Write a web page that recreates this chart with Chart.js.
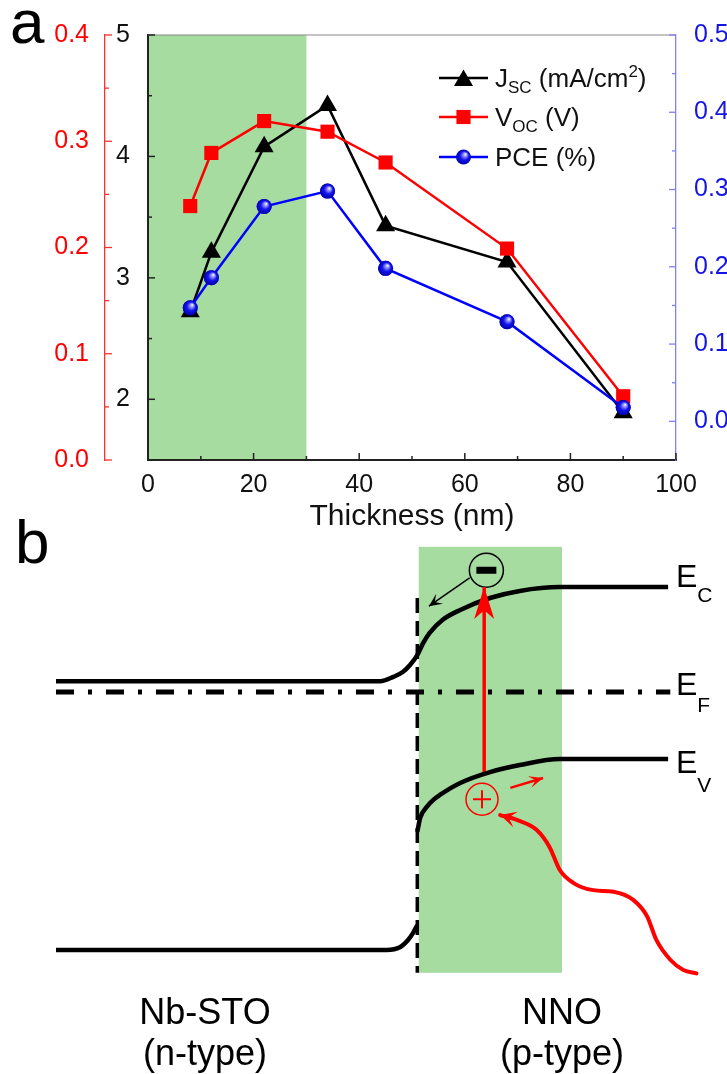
<!DOCTYPE html>
<html>
<head>
<meta charset="utf-8">
<script src="https://cdn.jsdelivr.net/npm/chart.js@4.4.0/dist/chart.umd.min.js"></script>
<style>
  body { margin: 0; background: #fff; width: 727px; height: 1074px; position: relative; overflow: hidden; }
  #chartA { position: absolute; left: 0; top: 0; }
  #chartB { position: absolute; left: 0; top: 500px; }
</style>
</head>
<body>
<canvas id="chartA" width="727" height="535"></canvas>
<canvas id="chartB" width="727" height="574"></canvas>
<script>
// ---- panel a data ----
const thickness = [8, 12, 22, 34, 45, 68, 90];
const jsc = [2.72, 3.21, 4.08, 4.42, 3.43, 3.13, 1.89];
const voc = [0.239, 0.289, 0.319, 0.309, 0.280, 0.199, 0.060];
const pce = [0.147, 0.186, 0.278, 0.298, 0.198, 0.129, 0.018];
const xTicks = [0, 20, 40, 60, 80, 100];
const jscTicks = [2, 3, 4, 5];
const vocTicks = [0, 0.1, 0.2, 0.3, 0.4];
const pceTicks = [0, 0.1, 0.2, 0.3, 0.4, 0.5];
const shadedThickness = [0, 30];

// ---- panel b (band diagram) data: position (a.u.) / energy (a.u.) ----
const cbX = [7.7, 52.3, 54.1, 55.4, 56.4, 57.4, 58.2, 59.1, 60.9, 63.3, 67.4, 71.5, 77.0, 91.9];
const cbE = [7.22, 7.22, 7.30, 7.39, 7.52, 7.70, 7.92, 8.11, 8.35, 8.53, 8.75, 8.88, 8.95, 8.95];
const vbLeftX = [7.7, 53.2, 55.0, 56.1, 56.8, 57.4];
const vbLeftE = [2.28, 2.28, 2.33, 2.46, 2.59, 2.74];
const vbRightX = [57.4, 57.8, 58.7, 59.6, 60.5, 63.3, 67.4, 71.5, 77.0, 91.9];
const vbRightE = [4.45, 4.71, 4.91, 5.04, 5.13, 5.35, 5.55, 5.68, 5.79, 5.79];
const efX = [7.7, 92.2];
const efE = [7.02, 7.02];
const interfaceX = [57.4, 57.4];
const interfaceE = [8.75, 1.86];
const exciteX = [66.6, 66.6];
const exciteE = [5.53, 8.95];
const electronX = [64.6, 59.0];
const electronE = [9.12, 8.60];
const holeX = [70.2, 74.7];
const holeE = [5.26, 5.44];
const photonX = [68.8, 71.1, 73.8, 75.6, 77.0, 78.9, 81.6, 84.4, 87.1, 89.0, 90.3, 92.2, 94.0, 95.8];
const photonE = [4.76, 4.67, 4.49, 4.17, 3.75, 3.51, 3.38, 3.35, 3.20, 2.90, 2.46, 2.10, 1.91, 1.85];
const electronPos = [66.9, 9.26];
const holePos = [66.3, 5.05];
const nnoX = [57.6, 77.3];
const nnoE = [1.86, 9.69];

const FAM = '"Liberation Sans", Arial, Helvetica, sans-serif';
Chart.defaults.font.family = FAM;
Chart.defaults.animation = false;

const GREEN = '#a6dca0';
const mids = arr => arr.slice(1).map((v, i) => (v + arr[i]) / 2);
const pts = (xs, ys) => xs.map((x, i) => ({x: x, y: ys[i]}));

function marker(ctx, style, x, y, r, color) {
  ctx.fillStyle = color;
  ctx.beginPath();
  if (style === 'triangle') {
    ctx.moveTo(x, y - r);
    ctx.lineTo(x + r * 0.866, y + r / 2);
    ctx.lineTo(x - r * 0.866, y + r / 2);
    ctx.closePath();
  } else if (style === 'rect') {
    const s = r * Math.SQRT1_2;
    ctx.rect(x - s, y - s, 2 * s, 2 * s);
  } else {
    ctx.arc(x, y, r, 0, Math.PI * 2);
  }
  ctx.fill();
}

function ball(ctx, x, y, r) {
  const g = ctx.createRadialGradient(x + r * 0.3, y - r * 0.4, 0, x, y, r * 1.05);
  g.addColorStop(0, '#ffffff');
  g.addColorStop(0.22, '#9a9aff');
  g.addColorStop(0.55, '#1414f0');
  g.addColorStop(1, '#0000a0');
  ctx.fillStyle = g;
  ctx.beginPath();
  ctx.arc(x, y, r, 0, Math.PI * 2);
  ctx.fill();
}

function richText(ctx, parts, x, y) {
  parts.forEach(p => {
    ctx.font = p[1] + 'px ' + FAM;
    ctx.fillText(p[0], x, y + (p[2] || 0));
    x += ctx.measureText(p[0]).width;
  });
}

// ---------------- panel a ----------------
const shadePlugin = {
  id: 'shade',
  beforeDraw(chart) {
    const {ctx, chartArea} = chart;
    const xs = chart.scales.x;
    const x0 = xs.getPixelForValue(shadedThickness[0]);
    const x1 = xs.getPixelForValue(shadedThickness[1]);
    ctx.save();
    ctx.fillStyle = GREEN;
    ctx.fillRect(x0, chartArea.top, x1 - x0, chartArea.bottom - chartArea.top);
    ctx.restore();
  }
};

const axisTicks = [
  {id: 'x', major: xTicks, minor: mids(xTicks), color: '#222', width: 1.5},
  {id: 'yJ', major: jscTicks, minor: mids(jscTicks), color: '#222', width: 1.5},
  {id: 'yV', major: vocTicks, minor: mids(vocTicks), color: '#ff3030', width: 1.3},
  {id: 'yP', major: pceTicks, minor: mids(pceTicks), color: '#8080ff', width: 1.3}
];

const tickPlugin = {
  id: 'inTicks',
  beforeDatasetsDraw(chart) {
    const {ctx, chartArea} = chart;
    ctx.save();
    ctx.strokeStyle = '#888';
    ctx.lineWidth = 1.2;
    ctx.beginPath();
    ctx.moveTo(chartArea.left, chartArea.top);
    ctx.lineTo(chartArea.right, chartArea.top);
    ctx.stroke();
    axisTicks.forEach(a => {
      const s = chart.scales[a.id];
      ctx.strokeStyle = a.color;
      ctx.lineWidth = a.width;
      const draw = (v, len) => {
        const p = s.getPixelForValue(v);
        ctx.beginPath();
        if (s.isHorizontal()) { ctx.moveTo(p, s.top); ctx.lineTo(p, s.top - len); }
        else if (s.position === 'left') { ctx.moveTo(s.right, p); ctx.lineTo(s.right + len, p); }
        else { ctx.moveTo(s.left, p); ctx.lineTo(s.left - len, p); }
        ctx.stroke();
      };
      a.major.forEach(v => draw(v, 7));
      a.minor.forEach(v => draw(v, 4));
    });
    ctx.restore();
  }
};

const ballPlugin = {
  id: 'balls',
  afterDatasetsDraw(chart) {
    const meta = chart.getDatasetMeta(2);
    meta.data.forEach(el => ball(chart.ctx, el.x, el.y, 7.5));
  }
};

const legendRows = [
  {style: 'triangle', color: '#000', r: 11, y: 78,
   parts: [['J', 26], ['SC', 17, 6], [' (mA/cm', 26], ['2', 17, -10], [')', 26]]},
  {style: 'rect', color: '#ff0000', r: 10, y: 117,
   parts: [['V', 26], ['OC', 17, 6], [' (V)', 26]]},
  {style: 'ball', color: '#0000ff', r: 7.5, y: 157,
   parts: [['PCE (%)', 26]]}
];

const legendPlugin = {
  id: 'richLegend',
  afterDraw(chart) {
    const ctx = chart.ctx;
    ctx.save();
    legendRows.forEach(row => {
      ctx.strokeStyle = row.color;
      ctx.lineWidth = 2.5;
      ctx.beginPath();
      ctx.moveTo(439, row.y);
      ctx.lineTo(488, row.y);
      ctx.stroke();
      if (row.style === 'ball') ball(ctx, 463.5, row.y, row.r);
      else marker(ctx, row.style, 463.5, row.style === 'triangle' ? row.y + 2.5 : row.y, row.r, row.color);
      ctx.fillStyle = '#111';
      ctx.textBaseline = 'alphabetic';
      richText(ctx, row.parts, 495, row.y + 9);
    });
    ctx.font = '62px ' + FAM;
    ctx.fillStyle = '#000';
    ctx.fillText('a', 10, 43);
    ctx.restore();
  }
};

const tickFont = {size: 25};

new Chart(document.getElementById('chartA'), {
  type: 'scatter',
  data: {
    datasets: [
      {label: 'Jsc (mA/cm2)', data: pts(thickness, jsc), yAxisID: 'yJ', showLine: true,
       borderColor: '#000', backgroundColor: '#000', borderWidth: 2.5,
       pointStyle: 'triangle', pointRadius: 11, pointBorderWidth: 0, order: 3},
      {label: 'Voc (V)', data: pts(thickness, voc), yAxisID: 'yV', showLine: true,
       borderColor: '#ff0000', backgroundColor: '#ff0000', borderWidth: 2.5,
       pointStyle: 'rect', pointRadius: 10, pointBorderWidth: 0, order: 2},
      {label: 'PCE (%)', data: pts(thickness, pce), yAxisID: 'yP', showLine: true,
       borderColor: '#0000ff', backgroundColor: '#1010ee', borderWidth: 2.5,
       pointStyle: 'circle', pointRadius: 7.5, pointBorderWidth: 0, order: 1}
    ]
  },
  options: {
    responsive: false,
    devicePixelRatio: 1,
    events: [],
    layout: {autoPadding: false, padding: {top: 35, left: 0, right: 0, bottom: 0}},
    plugins: {legend: {display: false}, tooltip: {enabled: false}},
    scales: {
      x: {
        type: 'linear', position: 'bottom', min: 0, max: 100,
        afterBuildTicks: s => { s.ticks = xTicks.map(v => ({value: v})); },
        afterFit: s => { s.height = 75; },
        grid: {display: false},
        border: {display: true, color: '#222', width: 2},
        ticks: {color: '#111', font: tickFont, padding: 2, maxRotation: 0},
        title: {display: true, text: 'Thickness (nm)', color: '#111', font: {size: 30}, padding: {top: 0, bottom: 0}}
      },
      yJ: {
        type: 'linear', position: 'left', weight: 0, min: 1.5, max: 5,
        afterBuildTicks: s => { s.ticks = jscTicks.map(v => ({value: v})); },
        afterFit: s => { s.width = 43; },
        grid: {display: false},
        border: {display: true, color: '#222', width: 2},
        ticks: {color: '#111', font: tickFont, padding: 10}
      },
      yV: {
        type: 'linear', position: 'left', weight: 1, min: 0, max: 0.4,
        afterBuildTicks: s => { s.ticks = vocTicks.map(v => ({value: v})); },
        afterFit: s => { s.width = 105; },
        grid: {display: false},
        border: {display: true, color: '#ff3030', width: 1.3},
        ticks: {color: '#ff0000', font: tickFont, padding: 8, callback: v => v.toFixed(1)}
      },
      yP: {
        type: 'linear', position: 'right', min: -0.05, max: 0.5,
        afterBuildTicks: s => { s.ticks = pceTicks.map(v => ({value: v})); },
        afterFit: s => { s.width = 51; },
        grid: {display: false},
        border: {display: true, color: '#8080ff', width: 1.3},
        ticks: {color: '#1515e6', font: tickFont, padding: 10, callback: v => v.toFixed(1)}
      }
    }
  },
  plugins: [shadePlugin, tickPlugin, ballPlugin, legendPlugin]
});

// ---------------- panel b ----------------
const nnoPlugin = {
  id: 'nno',
  beforeDraw(chart) {
    const {ctx} = chart;
    const xs = chart.scales.x, ys = chart.scales.y;
    const x0 = xs.getPixelForValue(nnoX[0]), x1 = xs.getPixelForValue(nnoX[1]);
    const y0 = ys.getPixelForValue(nnoE[1]), y1 = ys.getPixelForValue(nnoE[0]);
    ctx.save();
    ctx.fillStyle = GREEN;
    ctx.fillRect(x0, y0, x1 - x0, y1 - y0);
    ctx.restore();
  }
};

// arrow heads placed on the ends of the arrow datasets
const arrowHeads = [
  {ds: 4, at: 'last', len: 32, half: 10, notch: 0.72, color: '#ff0000'},
  {ds: 5, at: 'last', len: 13, half: 6, notch: 0.55, color: '#000'},
  {ds: 6, at: 'last', len: 14, half: 6, notch: 0.55, color: '#ff0000'},
  {ds: 7, at: 'first', len: 16, half: 8, notch: 0.55, color: '#ff0000'}
];

function head(ctx, tip, from, len, half, notch, color) {
  const dx = tip.x - from.x, dy = tip.y - from.y, d = Math.hypot(dx, dy);
  const ux = dx / d, uy = dy / d, px = -uy, py = ux;
  const bx = tip.x - ux * len, by = tip.y - uy * len;
  ctx.beginPath();
  ctx.moveTo(tip.x, tip.y);
  ctx.lineTo(bx + px * half, by + py * half);
  ctx.lineTo(tip.x - ux * len * notch, tip.y - uy * len * notch);
  ctx.lineTo(bx - px * half, by - py * half);
  ctx.closePath();
  ctx.fillStyle = color;
  ctx.fill();
}

const bandText = [
  {parts: [['E', 32], ['C', 21, 15]], x: 676, y: 87},
  {parts: [['E', 32], ['F', 21, 17]], x: 676, y: 195},
  {parts: [['E', 32], ['V', 21, 19]], x: 676, y: 273}
];
const layerText = [
  {text: ['Nb-STO', '(n-type)'], x: 205},
  {text: ['NNO', '(p-type)'], x: 562}
];

const bandDecor = {
  id: 'bandDecor',
  afterDatasetsDraw(chart) {
    const ctx = chart.ctx;
    ctx.save();
    arrowHeads.forEach(a => {
      const d = chart.getDatasetMeta(a.ds).data;
      const n = d.length;
      const tip = a.at === 'last' ? d[n - 1] : d[0];
      const from = a.at === 'last' ? d[n - 2] : d[1];
      head(ctx, tip, from, a.len, a.half, a.notch, a.color);
    });
    ctx.fillStyle = '#000';
    ctx.textBaseline = 'alphabetic';
    bandText.forEach(t => richText(ctx, t.parts, t.x, t.y));
    ctx.font = '36px ' + FAM;
    ctx.textAlign = 'center';
    layerText.forEach(t => {
      ctx.fillText(t.text[0], t.x, 524);
      ctx.fillText(t.text[1], t.x, 565);
    });
    ctx.textAlign = 'left';
    ctx.font = '62px ' + FAM;
    ctx.fillText('b', 15, 63);
    ctx.restore();
  }
};

const lineDs = (xs, ys, color, width, extra) => Object.assign({
  data: pts(xs, ys), showLine: true, borderColor: color, borderWidth: width,
  pointRadius: 0, clip: false, borderCapStyle: 'butt'
}, extra || {});

new Chart(document.getElementById('chartB'), {
  type: 'scatter',
  data: {
    datasets: [
      lineDs(cbX, cbE, '#000', 4.5, {cubicInterpolationMode: 'monotone'}),
      lineDs(vbLeftX, vbLeftE, '#000', 4.5, {cubicInterpolationMode: 'monotone'}),
      lineDs(vbRightX, vbRightE, '#000', 4.5, {cubicInterpolationMode: 'monotone'}),
      lineDs(efX, efE, '#000', 5, {borderDash: [18, 14, 4, 14]}),
      lineDs(exciteX, exciteE, '#ff0000', 3.5),
      lineDs(electronX, electronE, '#000', 1.5),
      lineDs(holeX, holeE, '#ff0000', 2.5),
      lineDs(photonX, photonE, '#ff0000', 4, {cubicInterpolationMode: 'monotone', borderCapStyle: 'round'}),
      lineDs(interfaceX, interfaceE, '#000', 3.5, {borderDash: [15, 8]}),
      {data: [{x: electronPos[0], y: electronPos[1]}], pointRadius: 17, pointBorderWidth: 1.5,
       pointBorderColor: '#000', pointBackgroundColor: 'rgba(0,0,0,0)', clip: false},
      {data: [{x: electronPos[0], y: electronPos[1]}], pointStyle: 'line', pointRadius: 10,
       pointBorderWidth: 7, pointBorderColor: '#000', clip: false},
      {data: [{x: holePos[0], y: holePos[1]}], pointRadius: 16, pointBorderWidth: 1.5,
       pointBorderColor: '#ff0000', pointBackgroundColor: 'rgba(0,0,0,0)', clip: false},
      {data: [{x: holePos[0], y: holePos[1]}], pointStyle: 'cross', pointRadius: 9,
       pointBorderWidth: 2, pointBorderColor: '#ff0000', clip: false}
    ]
  },
  options: {
    responsive: false,
    devicePixelRatio: 1,
    events: [],
    layout: {autoPadding: false, padding: {top: 30, left: 0, right: 0, bottom: 0}},
    plugins: {legend: {display: false}, tooltip: {enabled: false}},
    scales: {
      x: {type: 'linear', display: false, min: 0, max: 100},
      y: {type: 'linear', display: false, min: 0, max: 10}
    }
  },
  plugins: [nnoPlugin, bandDecor]
});
</script>
</body>
</html>
